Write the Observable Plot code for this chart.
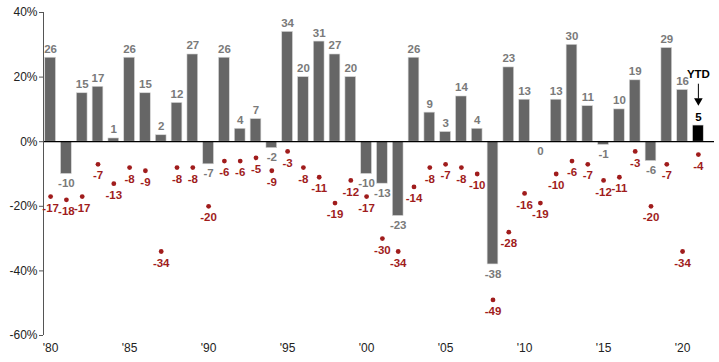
<!DOCTYPE html>
<html>
<head>
<meta charset="utf-8">
<script src="https://cdn.jsdelivr.net/npm/d3@7"></script>
<script src="https://cdn.jsdelivr.net/npm/@observablehq/plot@0.6"></script>
<style>
  html, body { margin: 0; padding: 0; background: #fff; }
  #chart { width: 719px; height: 362px; }
  svg { font-family: "Liberation Sans", Arial, sans-serif; }
</style>
</head>
<body>
<div id="chart"></div>
<script>
const years = d3.range(1980, 2022);
const annualReturns = [26, -10, 15, 17, 1, 26, 15, 2, 12, 27, -7, 26, 4, 7, -2, 34, 20, 31, 27, 20,
  -10, -13, -23, 26, 9, 3, 14, 4, -38, 23, 13, 0, 13, 30, 11, -1, 10, 19, -6, 29, 16, 5];
const intraYearDeclines = [-17, -18, -17, -7, -13, -8, -9, -34, -8, -8, -20, -6, -6, -5, -9, -3, -8, -11, -19, -12,
  -17, -30, -34, -14, -8, -7, -8, -10, -49, -28, -16, -19, -10, -6, -7, -12, -11, -3, -20, -7, -34, -4];
const yTicks = [-60, -40, -20, 0, 20, 40];
const xTickYears = [1980, 1985, 1990, 1995, 2000, 2005, 2010, 2015, 2020];
const ytdYear = 2021;
const ytdLabel = "YTD";

const rows = years.map((year, i) => ({
  year, ret: annualReturns[i], decline: intraYearDeclines[i], ytd: year === ytdYear
}));

const gray = "#666666";
const labelGray = "#7a7a7a";
const red = "#a01c1c";

const chart = Plot.plot({
  width: 719,
  height: 362,
  marginLeft: 43,
  marginRight: 5,
  marginTop: 12,
  marginBottom: 27,
  x: { type: "linear", domain: [1979.55, 2022.02], axis: null, label: null },
  y: { domain: [-60, 40], axis: null, label: null },
  style: { fontFamily: "Liberation Sans, Arial, sans-serif" },
  marks: [
    Plot.rectY(rows, {
      x1: d => d.year - 0.34, x2: d => d.year + 0.34, y1: 0, y2: "ret",
      fill: d => d.ytd ? "#000000" : gray, stroke: "#d8d8d8", strokeWidth: 0.6
    }),
    Plot.ruleY([0], { stroke: "#000", strokeWidth: 1.3 }),
    Plot.ruleX([1979.55], { y1: -60, y2: 40, stroke: "#555", strokeWidth: 1 }),
    Plot.axisY({
      ticks: yTicks, tickSize: 4, tickPadding: 2, tickFormat: d => d + "%",
      fontSize: 12, color: "#222", stroke: "#555", label: null
    }),
    Plot.axisX({
      ticks: xTickYears, tickSize: 0, tickPadding: 8, label: null,
      tickFormat: d => "'" + String(d).slice(2), fontSize: 12, color: "#222"
    }),
    Plot.text(rows, {
      x: "year", y: "ret", text: d => String(d.ret),
      fill: d => d.ytd ? "#000" : labelGray,
      fontWeight: "bold", fontSize: 11.5,
      filter: d => d.ret > 0, lineAnchor: "bottom", textAnchor: "middle", dy: -5
    }),
    Plot.text(rows, {
      x: "year", y: "ret", text: d => String(d.ret),
      fill: labelGray, fontWeight: "bold", fontSize: 11.5,
      filter: d => d.ret <= 0, lineAnchor: "top", textAnchor: "middle", dy: 5
    }),
    Plot.dot(rows, { x: "year", y: "decline", r: 2.4, fill: red, stroke: "none" }),
    Plot.text(rows, {
      x: "year", y: "decline", text: d => String(d.decline),
      fill: red, fontWeight: "bold", fontSize: 11.5, lineAnchor: "top", dy: 7
    }),
    // YTD annotation
    Plot.text([ytdYear], {
      x: d => d, y: () => 20.8, text: () => ytdLabel,
      fill: "#000", fontWeight: "bold", fontSize: 11.5, lineAnchor: "middle"
    }),
    Plot.ruleX([ytdYear], { y1: 17.8, y2: 13.2, stroke: "#000", strokeWidth: 1 }),
    Plot.dot([ytdYear], {
      x: d => d, y: () => 12.7, symbol: "triangle", rotate: 180, r: 3.2,
      fill: "#000", stroke: "none"
    })
  ]
});
document.getElementById("chart").appendChild(chart);
</script>
</body>
</html>
